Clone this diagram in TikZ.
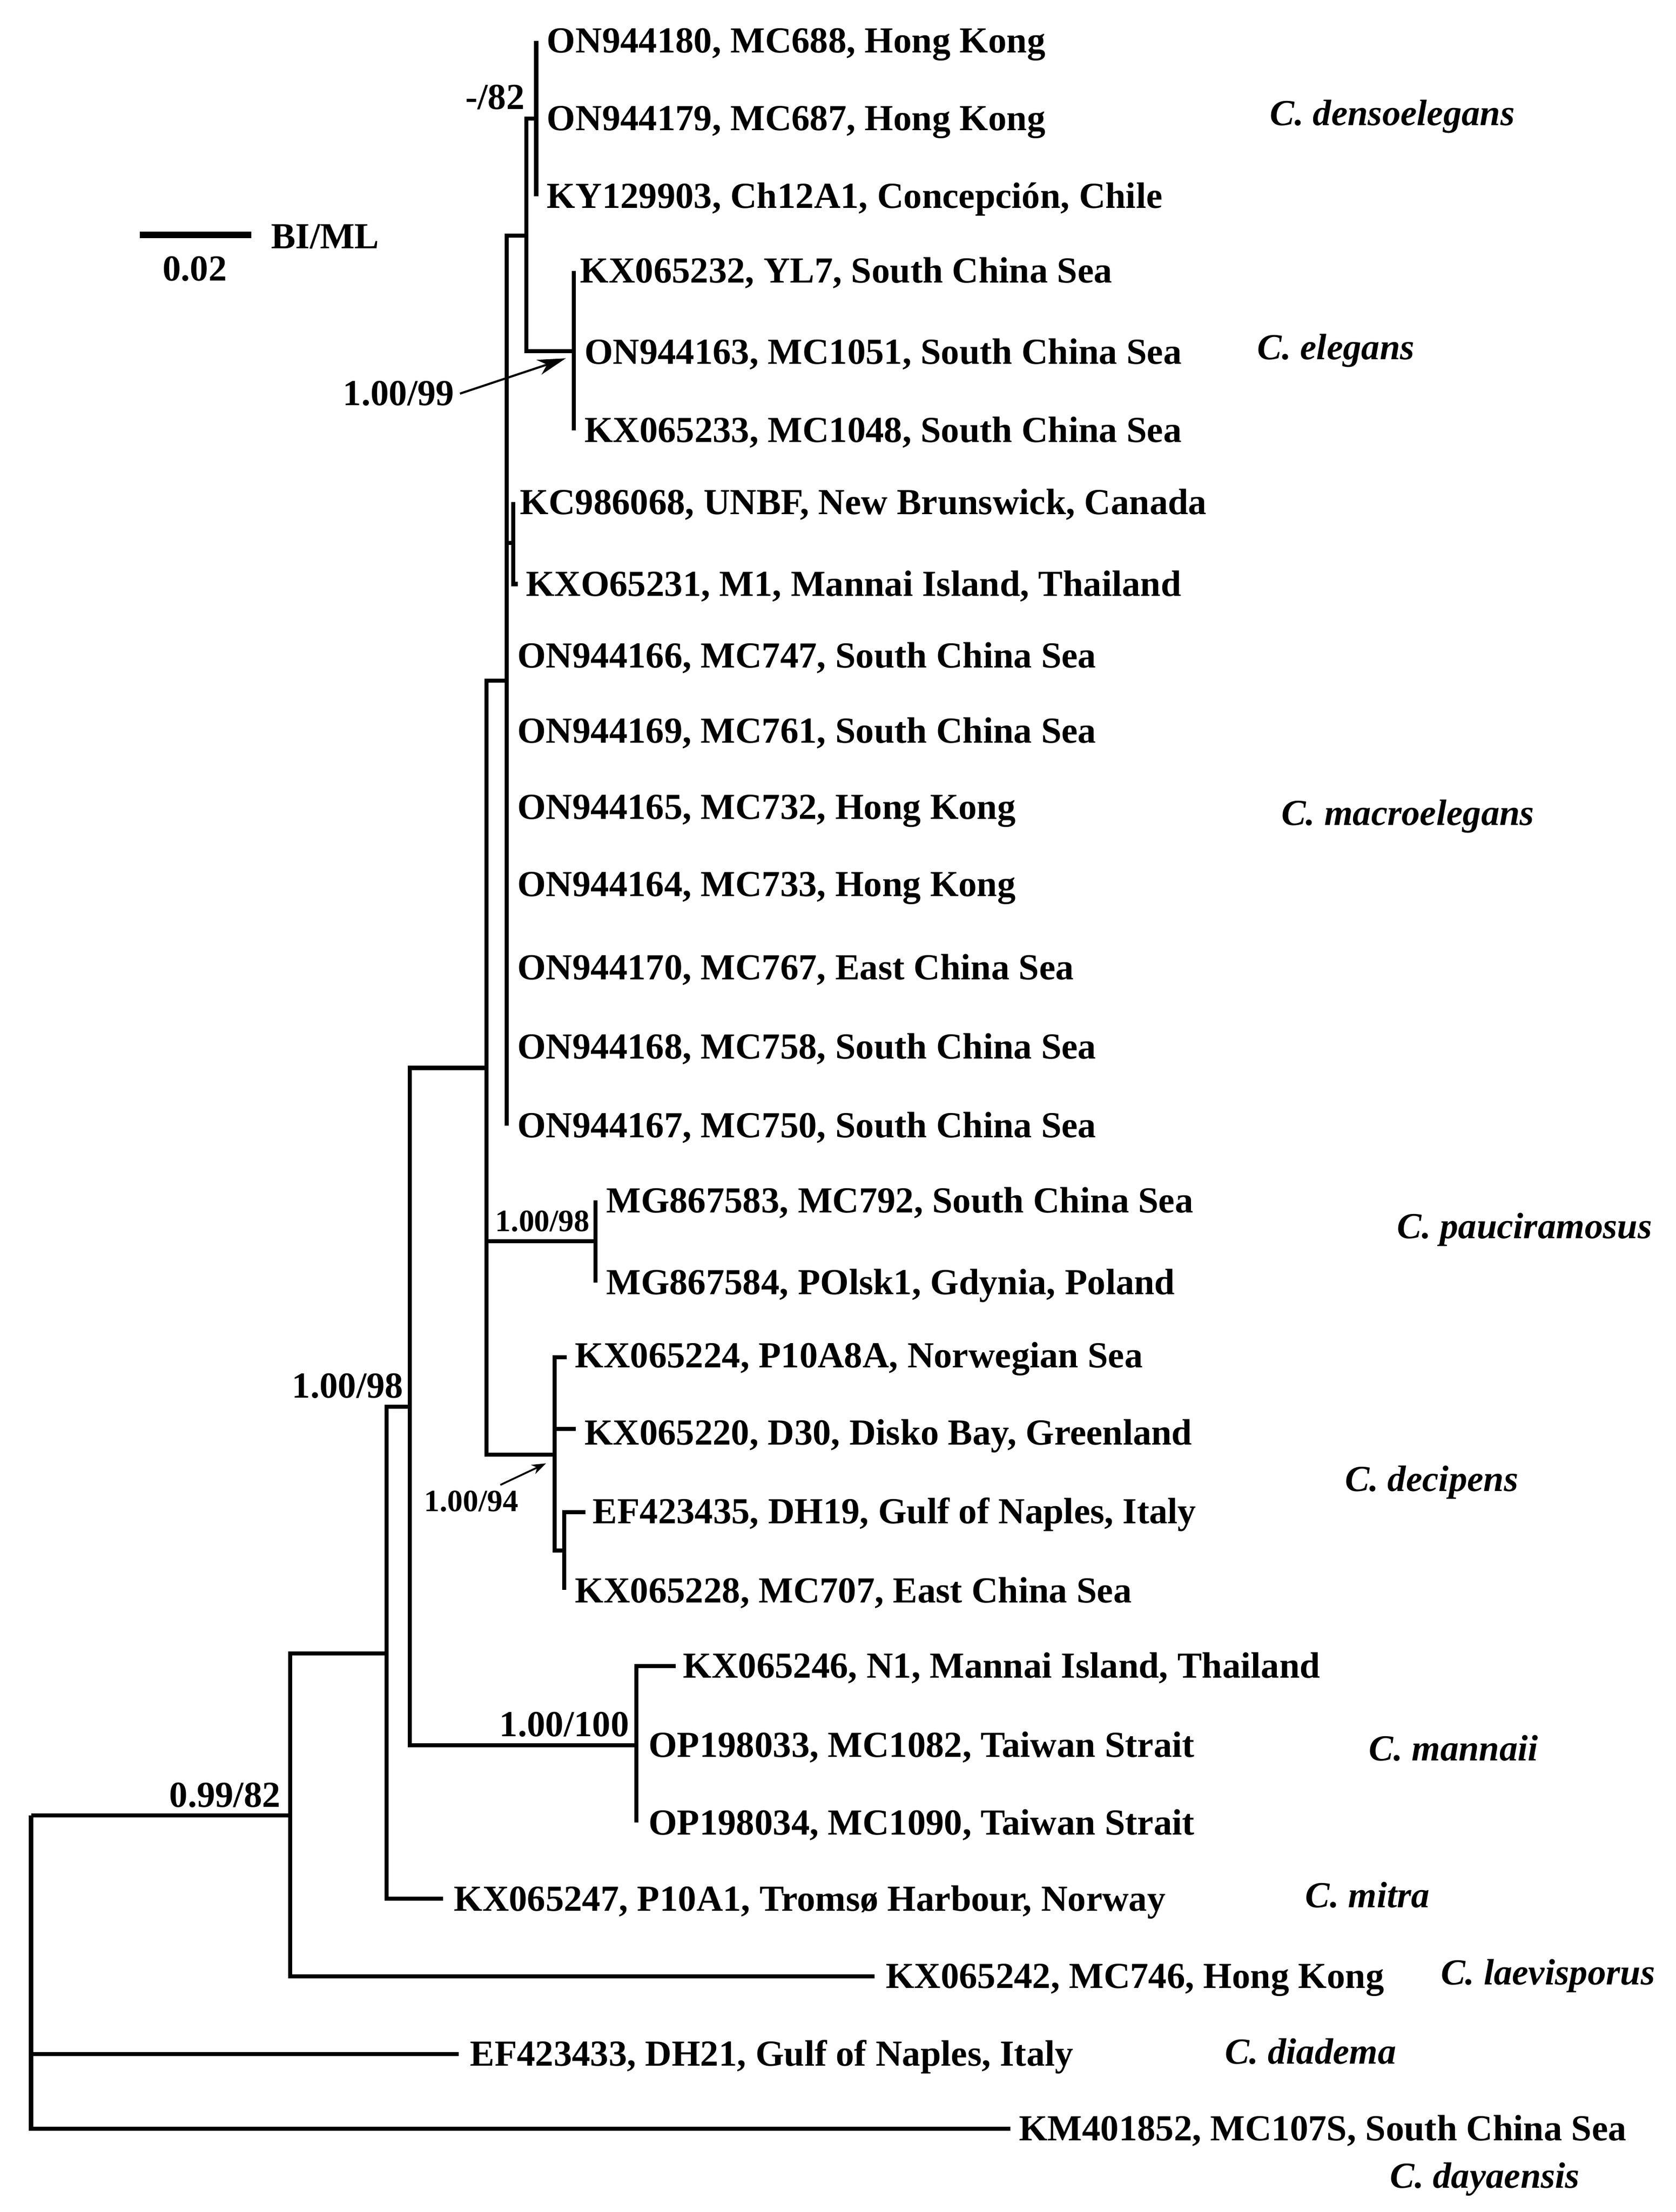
\documentclass[tikz,border=0pt]{standalone}
\usepackage{fontspec}
\setmainfont{Liberation Serif}
\usetikzlibrary{arrows.meta}
\begin{document}
\begin{tikzpicture}[x=1pt,y=-1pt,
  br/.style={line width=2.9pt, line join=miter},
  lf/.style={font=\fontsize{26}{30}\selectfont\bfseries, anchor=base west, inner sep=0pt},
  spc/.style={font=\fontsize{26}{30}\selectfont\bfseries\itshape, anchor=base west, inner sep=0pt},
  bsup/.style={font=\fontsize{26}{30}\selectfont\bfseries, inner sep=0pt},
  ssup/.style={font=\fontsize{22}{26}\selectfont\bfseries, inner sep=0pt},
  ptr/.style={line width=1.5pt, -{Stealth[length=20pt,width=11pt,inset=6pt]}},
  ptrs/.style={line width=1.3pt, -{Stealth[length=10pt,width=7pt,inset=3pt]}}]
\useasboundingbox (0,0) rectangle (1187.5,1568);
% internal nodes
\coordinate (root) at (22,1287);
\coordinate (n1) at (205.5,1287);
\coordinate (n2) at (274,1172);
\coordinate (n3) at (290.5,997);
\coordinate (nm) at (451,1237);
\coordinate (n4) at (344.7,757);
\coordinate (np) at (422,880);
\coordinate (nd) at (393,1031);
\coordinate (ns) at (400,1099);
\coordinate (n5) at (359,482.5);
\coordinate (n9) at (363.7,385);
\coordinate (n6) at (373,167);
\coordinate (n7) at (380,84);
\coordinate (n8) at (406.6,249);
% tips
\coordinate (t1) at (380,29);
\coordinate (t2) at (380,84);
\coordinate (t3) at (380,139);
\coordinate (t4) at (406.6,192);
\coordinate (t5) at (408,249);
\coordinate (t6) at (406.6,305);
\coordinate (t7) at (363.7,356);
\coordinate (t8) at (367,414);
\coordinate (t9) at (359,465);
\coordinate (t10) at (359,518);
\coordinate (t11) at (359,572);
\coordinate (t12) at (359,627);
\coordinate (t13) at (359,686);
\coordinate (t14) at (359,742);
\coordinate (t15) at (359,798);
\coordinate (t16) at (422,851);
\coordinate (t17) at (422,909);
\coordinate (t18) at (401.5,962);
\coordinate (t19) at (408,1013);
\coordinate (t20) at (415,1072);
\coordinate (t21) at (400,1127);
\coordinate (t22) at (479,1181);
\coordinate (t23) at (451,1237);
\coordinate (t24) at (451,1292);
\coordinate (t25) at (314,1346);
\coordinate (t26) at (620,1401);
\coordinate (t27) at (325,1456);
\coordinate (t28) at (716,1509);
% branches
\draw[br] (root) |- (n1);
\draw[br] (root) |- (t27);
\draw[br] (root) |- (t28);
\draw[br] (n1) |- (n2);
\draw[br] (n1) |- (t26);
\draw[br] (n2) |- (n3);
\draw[br] (n2) |- (t25);
\draw[br] (n3) |- (n4);
\draw[br] (n3) |- (nm);
\draw[br] (nm) |- (t22);
\draw[br] (nm) |- (t24);
\draw[br] (n4) |- (n5);
\draw[br] (n4) |- (np);
\draw[br] (n4) |- (nd);
\draw[br] (np) |- (t16);
\draw[br] (np) |- (t17);
\draw[br] (nd) |- (t18);
\draw[br] (nd) |- (t19);
\draw[br] (nd) |- (ns);
\draw[br] (ns) |- (t20);
\draw[br] (ns) |- (t21);
\draw[br] (n5) |- (n6);
\draw[br] (n5) |- (n9);
\draw[br] (n5) |- (t15);
\draw[br] (n9) |- (t7);
\draw[br] (n9) |- (t8);
\draw[br] (n6) |- (n7);
\draw[br] (n6) |- (n8);
\draw[br] (n7) |- (t1);
\draw[br] (n7) |- (t3);
\draw[br] (n8) |- (t4);
\draw[br] (n8) |- (t5);
\draw[br] (n8) |- (t6);
% leaf labels
\node[lf] (l1) at (387.5,37.5) {ON944180, MC688, Hong Kong};
\node[lf] (l2) at (387.5,92.5) {ON944179, MC687, Hong Kong};
\node[lf] (l3) at (387.5,147.5) {KY129903, Ch12A1, Concepción, Chile};
\node[lf] (l4) at (411,200.5) {KX065232, YL7, South China Sea};
\node[lf] (l5) at (414,258) {ON944163, MC1051, South China Sea};
\node[lf] (l6) at (414,313.5) {KX065233, MC1048, South China Sea};
\node[lf] (l7) at (368.5,364.5) {KC986068, UNBF, New Brunswick, Canada};
\node[lf] (l8) at (372.5,422.5) {KXO65231, M1, Mannai Island, Thailand};
\node[lf] (l9) at (366.5,473.5) {ON944166, MC747, South China Sea};
\node[lf] (l10) at (366.5,526.5) {ON944169, MC761, South China Sea};
\node[lf] (l11) at (366.5,580.5) {ON944165, MC732, Hong Kong};
\node[lf] (l12) at (366.5,635.5) {ON944164, MC733, Hong Kong};
\node[lf] (l13) at (366.5,694.5) {ON944170, MC767, East China Sea};
\node[lf] (l14) at (366.5,750.5) {ON944168, MC758, South China Sea};
\node[lf] (l15) at (366.5,806.5) {ON944167, MC750, South China Sea};
\node[lf] (l16) at (429.5,859.5) {MG867583, MC792, South China Sea};
\node[lf] (l17) at (429.5,917.5) {MG867584, POlsk1, Gdynia, Poland};
\node[lf] (l18) at (407.5,969.5) {KX065224, P10A8A, Norwegian Sea};
\node[lf] (l19) at (414,1024) {KX065220, D30, Disko Bay, Greenland};
\node[lf] (l20) at (420,1080) {EF423435, DH19, Gulf of Naples, Italy};
\node[lf] (l21) at (407.5,1136) {KX065228, MC707, East China Sea};
\node[lf] (l22) at (484,1189.5) {KX065246, N1, Mannai Island, Thailand};
\node[lf] (l23) at (459.5,1245.5) {OP198033, MC1082, Taiwan Strait};
\node[lf] (l24) at (459.5,1300.5) {OP198034, MC1090, Taiwan Strait};
\node[lf] (l25) at (321.5,1354.5) {KX065247, P10A1, Tromsø Harbour, Norway};
\node[lf] (l26) at (627.5,1409.5) {KX065242, MC746, Hong Kong};
\node[lf] (l27) at (333,1464.5) {EF423433, DH21, Gulf of Naples, Italy};
\node[lf] (l28) at (722,1517.5) {KM401852, MC107S, South China Sea};
% species labels
\node[spc] (s1) at (900,89) {C. densoelegans};
\node[spc] (s2) at (891,255) {C. elegans};
\node[spc] (s3) at (908,585) {C. macroelegans};
\node[spc] (s4) at (990,878) {C. pauciramosus};
\node[spc] (s5) at (953,1057) {C. decipens};
\node[spc] (s6) at (970,1248) {C. mannaii};
\node[spc] (s7) at (925,1352) {C. mitra};
\node[spc] (s8) at (1021,1407) {C. laevisporus};
\node[spc] (s9) at (868,1463) {C. diadema};
\node[spc] (s10) at (985,1551) {C. dayaensis};
% support values
\node[bsup, anchor=base east] (b1) at (372,77.5) {-/82};
\node[bsup, anchor=base west] (b2) at (243,287.5) {1.00/99};
\node[bsup, anchor=base east] (b3) at (286,991) {1.00/98};
\node[bsup, anchor=base east] (b4) at (446,1231) {1.00/100};
\node[bsup, anchor=base east] (b5) at (199,1281) {0.99/82};
\node[ssup, anchor=base east] (b6) at (418,873) {1.00/98};
\node[ssup, anchor=base west] (b7) at (300.5,1071.5) {1.00/94};
% pointers
\coordinate (a1s) at (326,279);
\coordinate (a1e) at (401,254);
\draw[ptr] (a1s) -- (a1e);
\coordinate (a2s) at (354.6,1052.6);
\coordinate (a2e) at (387,1037.3);
\draw[ptrs] (a2s) -- (a2e);
% scale bar
\coordinate (sb1) at (99,166.5);
\coordinate (sb2) at (178,166.5);
\draw[line width=4.5pt] (sb1) -- (sb2);
\node[bsup, anchor=base west] (bim) at (192,176) {BI/ML};
\node[bsup, anchor=base] (sc) at (138,199) {0.02};
\end{tikzpicture}
\end{document}
